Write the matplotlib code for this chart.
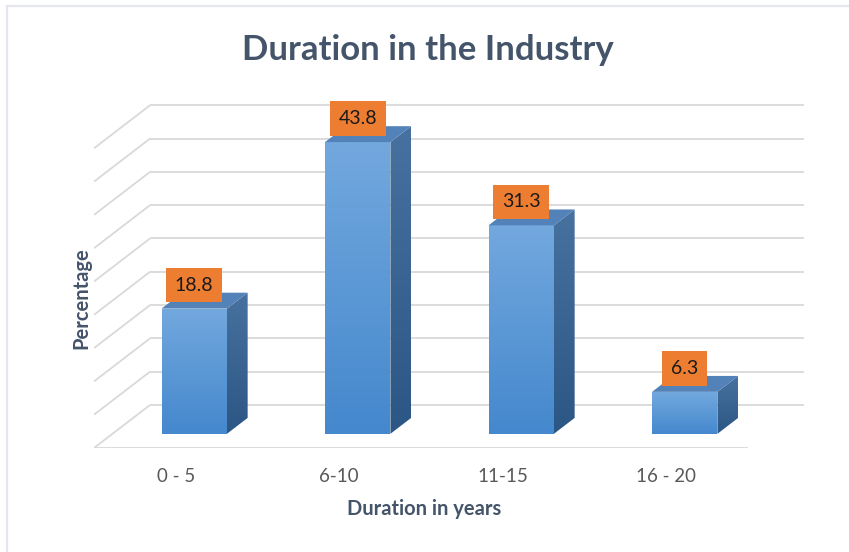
import numpy as np
import matplotlib.pyplot as plt
from matplotlib.patches import Polygon
from matplotlib.lines import Line2D
from matplotlib import transforms

categories = ['0 - 5', '6-10', '11-15', '16 - 20']
percentages = [18.8, 43.8, 31.3, 6.3]
y_ticks = np.arange(0, 50, 5)

plt.rcParams['font.family'] = ['Lato', 'DejaVu Sans']

W, H = 849, 552
fig = plt.figure(figsize=(W / 100, H / 100), dpi=100)

# plot area in pixels; one category = unit_x px, one percent = unit_y px
left_px, right_px, bottom_px, top_px = 94, 806, 448, 100
unit_x, unit_y = 163.5, 6.66
ax = fig.add_axes([left_px / W, 1 - bottom_px / H,
                   (right_px - left_px) / W, (bottom_px - top_px) / H])

# oblique depth: going from front (d=0) to back wall (d=1)
DX = 56 / unit_x
DY = 43 / unit_y
BAR_W = 0.40
D_FRONT, D_BACK = 0.33, 0.70
x_lo, x_hi = -0.5, len(categories) - 0.5


def proj(x, z, d):
    return x + d * DX, z + d * DY


grid_kw = dict(color='#d9d9d9', lw=1.3, zorder=1, solid_capstyle='butt')
for v in y_ticks:
    # back wall gridline + matching diagonal on the side wall
    ax.plot(*zip(proj(x_lo, v, 1), proj(x_hi, v, 1)), **grid_kw)
    ax.plot(*zip(proj(x_lo, v, 0), proj(x_lo, v, 1)), **grid_kw)
ax.plot(*zip(proj(x_lo, 0, 0), proj(x_hi, 0, 0)), **grid_kw)


def gradient_face(pts, c_top, c_bot, z):
    poly = Polygon(pts, closed=True, fc='none', ec='none', zorder=z)
    ax.add_patch(poly)
    xs, ys = zip(*pts)
    c_top = np.array(plt.matplotlib.colors.to_rgb(c_top))
    c_bot = np.array(plt.matplotlib.colors.to_rgb(c_bot))
    t = np.linspace(0, 1, 64)[:, None]
    img = (c_top * (1 - t) + c_bot * t)[:, None, :]
    im = ax.imshow(img, extent=(min(xs), max(xs), min(ys), max(ys)),
                   origin='upper', aspect='auto', zorder=z,
                   interpolation='bilinear')
    im.set_clip_path(poly)


for i, v in enumerate(percentages):
    xl, xr = i - BAR_W / 2, i + BAR_W / 2
    front = [proj(xl, 0, D_FRONT), proj(xr, 0, D_FRONT),
             proj(xr, v, D_FRONT), proj(xl, v, D_FRONT)]
    side = [proj(xr, 0, D_FRONT), proj(xr, 0, D_BACK),
            proj(xr, v, D_BACK), proj(xr, v, D_FRONT)]
    top = [proj(xl, v, D_FRONT), proj(xr, v, D_FRONT),
           proj(xr, v, D_BACK), proj(xl, v, D_BACK)]
    gradient_face(side, '#47719f', '#2c5785', 3)
    gradient_face(front, '#72a8de', '#4588cd', 4)
    ax.add_patch(Polygon(top, closed=True, fc='#5282b8', ec='none', zorder=4))

    # value label above the front face
    cx, cy = proj(i, v, D_FRONT)
    off = transforms.offset_copy(ax.transData, fig=fig, x=0, y=23.5, units='dots')
    ax.text(cx, cy, f'{v:.1f}', transform=off, ha='center', va='center',
            fontsize=14, color='#1a1a1a', zorder=6,
            bbox=dict(boxstyle='square,pad=0.45', fc='#ed7d31', ec='none'))

    # category label under the floor front edge
    lx, ly = proj(i, 0, 0)
    off = transforms.offset_copy(ax.transData, fig=fig, x=0, y=-29, units='dots')
    ax.text(lx, ly, categories[i], transform=off, ha='center', va='center',
            fontsize=13.5, color='#595959')

ax.set_xlim(x_lo, x_lo + (right_px - left_px) / unit_x)
ax.set_ylim(0, (bottom_px - top_px) / unit_y)
ax.axis('off')

fig.text(428 / W, 1 - 50 / H, 'Duration in the Industry', ha='center', va='center',
         fontsize=25, fontweight='bold', color='#44546a')
fig.text(424 / W, 1 - 509 / H, 'Duration in years', ha='center', va='center',
         fontsize=14.5, fontweight='bold', color='#44546a')
fig.text(81 / W, 1 - 298 / H, 'Percentage', ha='center', va='center',
         rotation=90, fontsize=14.5, fontweight='bold', color='#44546a')

# thin frame along the top and left edges
fig.add_artist(Line2D([7 / W, 1], [1 - 6 / H, 1 - 6 / H], color='#e4e7ee', lw=1.6))
fig.add_artist(Line2D([7 / W, 7 / W], [0, 1 - 6 / H], color='#e4e7ee', lw=1.6))

fig.savefig('out.png', dpi=100)
